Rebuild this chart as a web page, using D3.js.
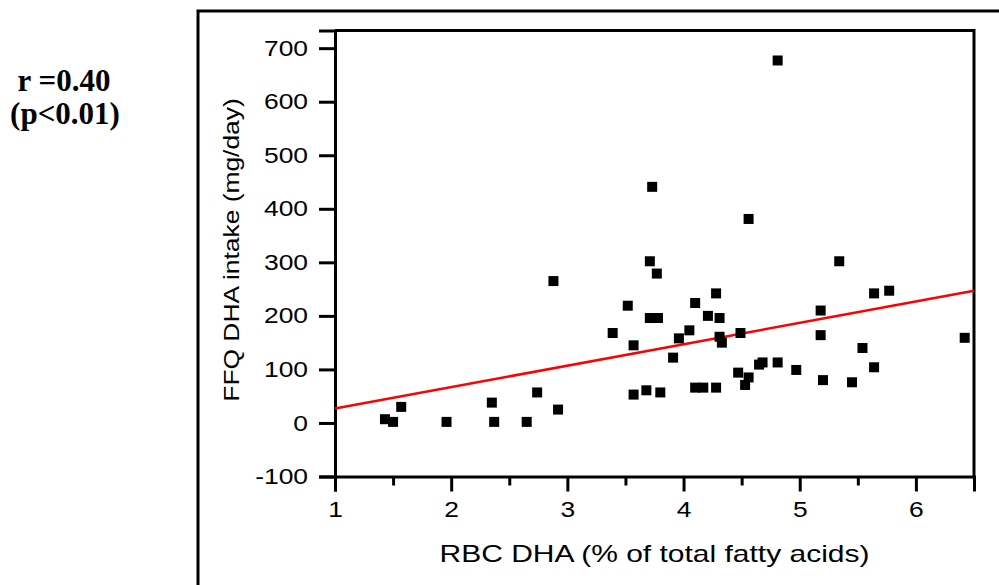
<!DOCTYPE html>
<html lang="en">
<head>
    <meta charset="utf-8">
    <title>RBC DHA vs FFQ DHA intake</title>
    <script src="https://d3js.org/d3.v7.min.js"></script>
    <style>
        body { margin: 0; background: #fff; }
    </style>
</head>
<body>
<div id="chart"></div>
<script>
    // RBC DHA (% of total fatty acids)
    const rbcDha = [1.43, 1.50, 1.57, 1.96, 2.35, 2.37, 2.65, 2.74, 2.88, 2.92,
        3.39, 3.52, 3.57, 3.57, 3.68, 3.71, 3.71, 3.73, 3.77, 3.78,
        3.80, 3.91, 3.96, 4.05, 4.10, 4.10, 4.17, 4.21, 4.28, 4.28,
        4.31, 4.31, 4.33, 4.47, 4.49, 4.53, 4.56, 4.56, 4.65, 4.68,
        4.81, 4.81, 4.97, 5.18, 5.18, 5.20, 5.34, 5.45, 5.54, 5.64,
        5.64, 5.77, 6.42];
    // FFQ DHA intake (mg/day)
    const ffqDha = [7, 2, 30, 2, 38, 2, 2, 57, 265, 25,
        168, 219, 145, 53, 61, 302, 196, 441, 279, 196,
        57, 122, 158, 173, 224, 66, 66, 200, 242, 66,
        196, 161, 150, 94, 168, 71, 381, 85, 109, 113,
        677, 113, 99, 210, 164, 80, 302, 76, 140, 242,
        104, 247, 159];
    // regression line: intercept, slope
    const fit = [-13, 40];
    const xTicks = [1, 2, 3, 4, 5, 6];
    const xMinorTicks = [1.5, 2.5, 3.5, 4.5, 5.5, 6.5];
    const yTicks = [-100, 0, 100, 200, 300, 400, 500, 600, 700];

    const width = 999, height = 585;
    const margin = {top: 30.5, right: 25, bottom: 108.5, left: 335};
    const sans = '"Liberation Sans", Arial, Helvetica, sans-serif';
    const stretch = 1.2; // the original font is wider than Arial

    const svg = d3.select('#chart').append('svg')
        .attr('width', width).attr('height', height);

    // outer box
    svg.append('rect')
        .attr('x', 198).attr('y', 11)
        .attr('width', 820).attr('height', 600)
        .attr('fill', 'none').attr('stroke', '#000').attr('stroke-width', 3);

    const x = d3.scaleLinear().domain([1, 6.5]).range([margin.left, width - margin.right]);
    const y = d3.scaleLinear().domain([-100, 733]).range([height - margin.bottom, margin.top]);

    // frame top / right
    svg.append('path')
        .attr('d', `M${x(1)},${y(733)}H${x(6.5)}V${y(-100)}`)
        .attr('fill', 'none').attr('stroke', '#000').attr('stroke-width', 3);

    svg.append('g')
        .attr('transform', `translate(0,${y(-100)})`)
        .call(d3.axisBottom(x).tickValues(xTicks).tickSize(15).tickPadding(10).tickFormat(d => d.toString()));
    svg.append('g')
        .attr('transform', `translate(0,${y(-100)})`)
        .call(d3.axisBottom(x).tickValues(xMinorTicks).tickSize(9).tickFormat(''))
        .call(g => g.select('.domain').remove());

    svg.append('g')
        .attr('class', 'y-axis')
        .attr('transform', `translate(${x(1)},0)`)
        .call(d3.axisLeft(y).tickValues(yTicks).tickSize(16).tickFormat(d => d.toString()));

    svg.selectAll('.domain, .tick line').attr('stroke', '#000').attr('stroke-width', 3);
    svg.selectAll('.tick text')
        .attr('font-family', sans)
        .attr('font-size', 22)
        .attr('fill', '#000');
    svg.selectAll('.y-axis .tick text')
        .attr('x', 0)
        .attr('transform', `translate(-27,0) scale(${stretch},1)`);
    svg.selectAll('g:not(.y-axis) > .tick text')
        .attr('transform', `scale(${stretch},1)`);

    // regression line
    const line = d3.line().x(d => x(d)).y(d => y(fit[0] + fit[1] * d));
    svg.append('path')
        .attr('d', line(x.domain()))
        .attr('fill', 'none').attr('stroke', '#ff0000').attr('stroke-width', 2.5);

    // points
    const sq = 10;
    svg.append('g').selectAll('rect')
        .data(rbcDha.map((d, i) => [d, ffqDha[i]]))
        .join('rect')
        .attr('x', d => x(d[0]) - sq / 2)
        .attr('y', d => y(d[1]) - sq / 2)
        .attr('width', sq).attr('height', sq)
        .attr('fill', '#000');

    // axis titles
    svg.append('text')
        .attr('transform', `translate(${(x(1) + x(6.5)) / 2},562) scale(1.25,1)`)
        .attr('text-anchor', 'middle')
        .attr('font-family', sans)
        .attr('font-size', 24)
        .text('RBC DHA (% of total fatty acids)');

    svg.append('text')
        .attr('transform', `translate(239,250) rotate(-90) scale(${stretch},1)`)
        .attr('text-anchor', 'middle')
        .attr('font-family', sans)
        .attr('font-size', 22)
        .text('FFQ DHA intake (mg/day)');

    // correlation annotation
    const note = svg.append('text')
        .attr('font-family', '"Liberation Serif", "Times New Roman", serif')
        .attr('font-weight', 'bold')
        .attr('font-size', 31)
        .attr('text-anchor', 'middle');
    note.append('tspan').attr('x', 64).attr('y', 91).text('r =0.40');
    note.append('tspan').attr('x', 65).attr('y', 124).text('(p<0.01)');
</script>
</body>
</html>
